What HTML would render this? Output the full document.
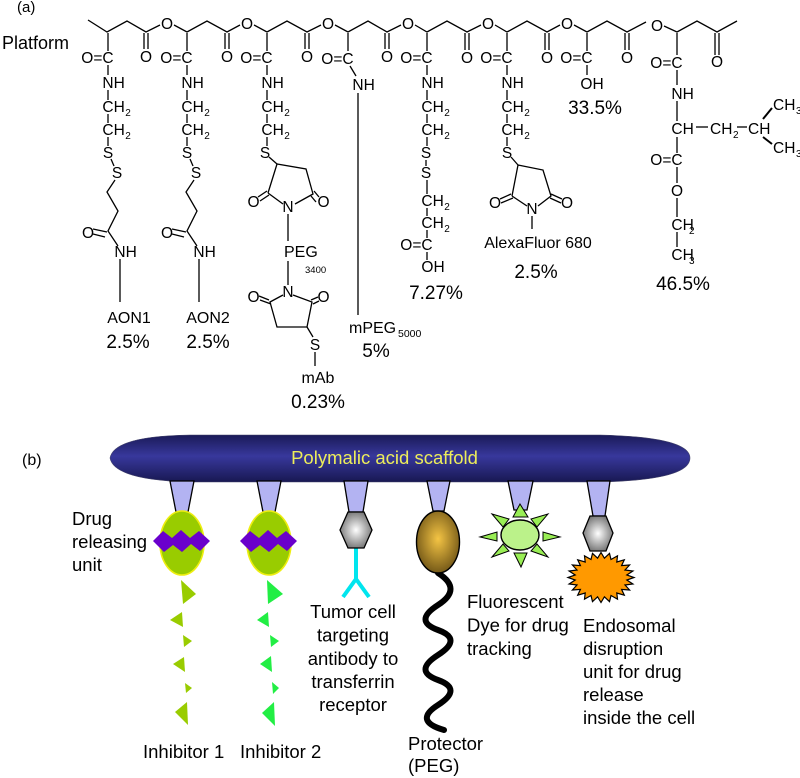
<!DOCTYPE html>
<html><head><meta charset="utf-8">
<style>
html,body{margin:0;padding:0;background:#fff;}
svg{display:block;}
text{font-family:"Liberation Sans",Arial,sans-serif;fill:#000;}
.a{font-size:15.5px;}
.s{font-size:10px;}
.n{font-size:16px;}
.p{font-size:19px;}
.L{font-size:18.5px;}
.b line,.b polyline{stroke:#000;stroke-width:1.3;fill:none;}
</style></head>
<body>
<svg width="800" height="778" viewBox="0 0 800 778" xmlns="http://www.w3.org/2000/svg">
<defs>
<linearGradient id="bar" x1="0" y1="0" x2="0" y2="1">
<stop offset="0" stop-color="#1a1a58"/><stop offset="0.45" stop-color="#38389c"/><stop offset="1" stop-color="#181852"/>
</linearGradient>
<radialGradient id="hex" cx=".5" cy=".5" r=".55"><stop offset="0" stop-color="#ffffff"/><stop offset="1" stop-color="#707070"/></radialGradient>
<radialGradient id="peg" cx=".5" cy=".45" r=".6"><stop offset="0" stop-color="#f4c444"/><stop offset="1" stop-color="#6a5014"/></radialGradient>
</defs>

<!-- ===== (a) ===== -->
<text x="17" y="12" style="font-size:15px">(a)</text>
<text x="2" y="49" style="font-size:18px">Platform</text>

<g class="b">
<!-- backbone -->
<polyline points="88,20 107,32 127,21 146,32 160,25"/>
<polyline points="174,25 187,32 207,21 227,32 240,25"/>
<polyline points="254,25 267,32 287,21 307,32 321,25"/>
<polyline points="335,25 348,32 368,21 387,32 401,25"/>
<polyline points="415,25 427,32 447,21 467,32 481,25"/>
<polyline points="495,25 507,32 527,21 547,32 560,25"/>
<polyline points="574,25 587,32 607,21 627,32 646,22"/>
<polyline points="664,26 677,32 697,21 717,32 737,21"/>
<!-- carbonyl double bonds -->
<line x1="144" y1="33" x2="144" y2="49"/><line x1="148" y1="33" x2="148" y2="49"/>
<line x1="225" y1="33" x2="225" y2="49"/><line x1="229" y1="33" x2="229" y2="49"/>
<line x1="305" y1="33" x2="305" y2="49"/><line x1="309" y1="33" x2="309" y2="49"/>
<line x1="385" y1="33" x2="385" y2="49"/><line x1="389" y1="33" x2="389" y2="49"/>
<line x1="465" y1="33" x2="465" y2="50"/><line x1="469" y1="33" x2="469" y2="50"/>
<line x1="545" y1="33" x2="545" y2="50"/><line x1="549" y1="33" x2="549" y2="50"/>
<line x1="625" y1="33" x2="625" y2="50"/><line x1="629" y1="33" x2="629" y2="50"/>
<line x1="715" y1="33" x2="715" y2="55"/><line x1="719" y1="33" x2="719" y2="55"/>
</g>
<g class="a" text-anchor="middle">
<text x="167" y="29">O</text><text x="247" y="29">O</text><text x="328" y="29">O</text><text x="408" y="29">O</text>
<text x="488" y="29">O</text><text x="567" y="29">O</text><text x="657" y="31">O</text>
<text x="146" y="62">O</text><text x="227" y="62">O</text><text x="307" y="62">O</text><text x="387" y="62">O</text>
<text x="467" y="63">O</text><text x="547" y="63">O</text><text x="627" y="63">O</text><text x="717" y="67">O</text>
</g>

<!-- common side chains: cx 108,187,267,427,507 -->
<g class="b">
<line x1="108" y1="33" x2="108" y2="51"/><line x1="108" y1="65" x2="108" y2="75"/><line x1="108" y1="90" x2="108" y2="100"/><line x1="108" y1="114" x2="108" y2="123"/><line x1="108" y1="137" x2="108" y2="146"/>
<line x1="187" y1="33" x2="187" y2="51"/><line x1="187" y1="65" x2="187" y2="75"/><line x1="187" y1="90" x2="187" y2="100"/><line x1="187" y1="114" x2="187" y2="123"/><line x1="187" y1="137" x2="187" y2="146"/>
<line x1="267" y1="33" x2="267" y2="51"/><line x1="267" y1="65" x2="267" y2="75"/><line x1="267" y1="90" x2="267" y2="100"/><line x1="267" y1="114" x2="267" y2="123"/><line x1="267" y1="137" x2="267" y2="146"/>
<line x1="427" y1="33" x2="427" y2="51"/><line x1="427" y1="65" x2="427" y2="75"/><line x1="427" y1="90" x2="427" y2="100"/><line x1="427" y1="114" x2="427" y2="123"/><line x1="427" y1="137" x2="427" y2="146"/>
<line x1="507" y1="33" x2="507" y2="51"/><line x1="507" y1="65" x2="507" y2="75"/><line x1="507" y1="90" x2="507" y2="100"/><line x1="507" y1="114" x2="507" y2="123"/><line x1="507" y1="137" x2="507" y2="146"/>
</g>
<g class="a">
<text x="113.6" y="63" text-anchor="end">O=C</text><text x="102.4" y="88">NH</text><text x="102.4" y="112">CH</text><text x="102.4" y="135">CH</text><text x="108" y="158" text-anchor="middle">S</text>
<text x="192.6" y="63" text-anchor="end">O=C</text><text x="181.4" y="88">NH</text><text x="181.4" y="112">CH</text><text x="181.4" y="135">CH</text><text x="187" y="158" text-anchor="middle">S</text>
<text x="272.6" y="63" text-anchor="end">O=C</text><text x="261.4" y="88">NH</text><text x="261.4" y="112">CH</text><text x="261.4" y="135">CH</text><text x="265" y="158" text-anchor="middle">S</text>
<text x="432.6" y="63" text-anchor="end">O=C</text><text x="421.4" y="88">NH</text><text x="421.4" y="112">CH</text><text x="421.4" y="135">CH</text><text x="426" y="158" text-anchor="middle">S</text>
<text x="512.6" y="63" text-anchor="end">O=C</text><text x="501.4" y="88">NH</text><text x="501.4" y="112">CH</text><text x="501.4" y="135">CH</text><text x="507" y="158" text-anchor="middle">S</text>
</g>
<g class="s">
<text x="125.3" y="116">2</text><text x="125.3" y="139">2</text>
<text x="204.3" y="116">2</text><text x="204.3" y="139">2</text>
<text x="284.3" y="116">2</text><text x="284.3" y="139">2</text>
<text x="444.3" y="116">2</text><text x="444.3" y="139">2</text>
<text x="524.3" y="116">2</text><text x="524.3" y="139">2</text>
</g>

<!-- chain 1 & 2: AON -->
<g class="b">
<line x1="111" y1="159" x2="114" y2="166"/>
<polyline points="115,180 107,192 118,211 108,231 118,246"/>
<line x1="93" y1="229" x2="107" y2="232"/><line x1="93" y1="234" x2="105" y2="237"/>
<line x1="120" y1="259" x2="120" y2="302"/>
<line x1="190" y1="159" x2="193" y2="166"/>
<polyline points="194,180 186,192 197,211 187,231 197,246"/>
<line x1="172" y1="229" x2="186" y2="232"/><line x1="172" y1="234" x2="184" y2="237"/>
<line x1="199" y1="259" x2="199" y2="302"/>
</g>
<g class="a">
<text x="117" y="178" text-anchor="middle">S</text>
<text x="88" y="238" text-anchor="middle">O</text>
<text x="114.4" y="257">NH</text>
<text x="196" y="178" text-anchor="middle">S</text>
<text x="167" y="238" text-anchor="middle">O</text>
<text x="193.4" y="257">NH</text>
</g>
<text class="n" x="129" y="323" text-anchor="middle">AON1</text>
<text class="p" x="128" y="348" text-anchor="middle">2.5%</text>
<text class="n" x="208" y="323" text-anchor="middle">AON2</text>
<text class="p" x="208" y="348" text-anchor="middle">2.5%</text>

<!-- chain 3: maleimide-PEG-maleimide-mAb -->
<g class="b">
<line x1="269" y1="157" x2="277" y2="164"/>
<polyline points="268,193 277,164 306,169 313,194 295,204"/>
<line x1="268" y1="193" x2="283" y2="204"/>
<line x1="267" y1="191" x2="258" y2="197"/><line x1="269" y1="195" x2="260" y2="201"/>
<line x1="314" y1="191" x2="319" y2="197"/><line x1="311" y1="196" x2="316" y2="202"/>
<line x1="288" y1="214" x2="288" y2="241"/>
<line x1="288" y1="261" x2="288" y2="285"/>
<polyline points="283,295 270,302 277,327 307,327 312,302 293,295"/>
<line x1="269" y1="300" x2="259" y2="296"/><line x1="271" y1="304" x2="260" y2="300"/>
<line x1="311" y1="300" x2="318" y2="297"/><line x1="313" y1="304" x2="319" y2="301"/>
<line x1="307" y1="327" x2="313" y2="337"/>
<line x1="315" y1="352" x2="315" y2="366"/>
</g>
<g class="a" text-anchor="middle">
<text x="288" y="212">N</text>
<text x="253.5" y="207">O</text>
<text x="323.5" y="207">O</text>
<text x="288" y="297">N</text>
<text x="253.5" y="302">O</text>
<text x="323.5" y="302">O</text>
<text x="315" y="350">S</text>
</g>
<text class="n" x="284" y="257">PEG</text>
<text x="305" y="273" style="font-size:9.5px">3400</text>
<text class="n" x="318" y="383" text-anchor="middle">mAb</text>
<text class="p" x="318" y="408" text-anchor="middle">0.23%</text>

<!-- chain 4: mPEG -->
<g class="b">
<line x1="348" y1="33" x2="348" y2="51"/>
<line x1="350" y1="66" x2="356" y2="76"/>
<line x1="358" y1="93" x2="358" y2="315"/>
</g>
<text class="a" x="353.6" y="64" text-anchor="end">O=C</text>
<text class="a" x="352.4" y="90">NH</text>
<text class="n" x="349" y="333">mPEG</text>
<text x="398" y="337" style="font-size:10.5px">5000</text>
<text class="p" x="376" y="357" text-anchor="middle">5%</text>

<!-- chain 5: 7.27% -->
<g class="b">
<line x1="426" y1="160" x2="426" y2="166"/>
<line x1="427" y1="180" x2="427" y2="194"/>
<line x1="427" y1="208" x2="427" y2="216"/>
<line x1="427" y1="230" x2="427" y2="238"/>
<line x1="427" y1="252" x2="427" y2="260"/>
</g>
<g class="a">
<text x="426" y="178" text-anchor="middle">S</text>
<text x="421.4" y="206">CH</text>
<text x="421.4" y="228">CH</text>
<text x="432.6" y="250" text-anchor="end">O=C</text>
<text x="421.4" y="272">OH</text>
</g>
<text class="s" x="444.3" y="210">2</text>
<text class="s" x="444.3" y="232">2</text>
<text class="p" x="436" y="299" text-anchor="middle">7.27%</text>

<!-- chain 6: AlexaFluor -->
<g class="b">
<line x1="511" y1="157" x2="518" y2="165"/>
<polyline points="512,196 518,165 543,170 551,196 538,206"/>
<line x1="512" y1="196" x2="527" y2="206"/>
<line x1="511" y1="194" x2="500" y2="199"/><line x1="513" y1="198" x2="501" y2="203"/>
<line x1="551" y1="194" x2="562" y2="199"/><line x1="550" y1="198" x2="561" y2="203"/>
<line x1="532" y1="216" x2="532" y2="229"/>
</g>
<g class="a" text-anchor="middle">
<text x="532" y="214">N</text>
<text x="495" y="208">O</text>
<text x="567" y="208">O</text>
</g>
<text class="n" x="538" y="248" text-anchor="middle">AlexaFluor 680</text>
<text class="p" x="536" y="278" text-anchor="middle">2.5%</text>

<!-- chain 7: 33.5% -->
<g class="b">
<line x1="587" y1="33" x2="587" y2="51"/>
<line x1="587" y1="65" x2="587" y2="75"/>
</g>
<text class="a" x="592.6" y="63" text-anchor="end">O=C</text>
<text class="a" x="580.4" y="89">OH</text>
<text class="p" x="595" y="114" text-anchor="middle">33.5%</text>

<!-- chain 8: leucine ethyl ester -->
<g class="b">
<line x1="677" y1="33" x2="677" y2="55"/>
<line x1="677" y1="70" x2="677" y2="85"/>
<line x1="677" y1="101" x2="677" y2="121"/>
<line x1="696" y1="127" x2="708" y2="127"/>
<line x1="737" y1="127" x2="747" y2="127"/>
<line x1="763" y1="119" x2="772" y2="108" style="stroke-width:2"/>
<line x1="763" y1="137" x2="772" y2="144" style="stroke-width:2"/>
<line x1="677" y1="137" x2="677" y2="153"/>
<line x1="677" y1="167" x2="677" y2="183"/>
<line x1="677" y1="198" x2="677" y2="217"/>
<line x1="677" y1="232" x2="677" y2="247"/>
</g>
<g class="a">
<text x="682.6" y="68" text-anchor="end">O=C</text>
<text x="671.4" y="99">NH</text>
<text x="671.4" y="134">CH</text>
<text x="710" y="134">CH</text>
<text x="748" y="134">CH</text>
<text x="773" y="110">CH</text>
<text x="773" y="153">CH</text>
<text x="682.6" y="165" text-anchor="end">O=C</text>
<text x="677" y="196" text-anchor="middle">O</text>
<text x="671.4" y="230">CH</text>
<text x="671.4" y="260">CH</text>
</g>
<g class="s">
<text x="733" y="138">2</text>
<text x="796" y="114">3</text>
<text x="796" y="157">3</text>
<text x="689" y="234">2</text>
<text x="689" y="264">3</text>
</g>
<text class="p" x="683" y="290" text-anchor="middle">46.5%</text>

<!-- ===== (b) ===== -->
<text x="22" y="465" style="font-size:16px">(b)</text>

<path d="M110,458 Q114,436 190,435 L600,435 Q690,437 690,458 Q690,480 600,482 L190,482 Q114,480 110,458 Z" fill="url(#bar)" stroke="#44446a" stroke-width="0.6"/>
<text x="384.5" y="464" text-anchor="middle" style="font-size:18.5px;fill:#eded5a">Polymalic acid scaffold</text>

<!-- stalks -->
<g fill="#b3b3f2" stroke="#000" stroke-width="1.3">
<polygon points="170,481 194,481 188,512 176,512"/>
<polygon points="257,481 281,481 275,512 263,512"/>
<polygon points="344,481 368,481 363,512 349,512"/>
<polygon points="427,481 450,481 444,511 433,511"/>
<polygon points="508,481 533,481 527,510 514,510"/>
<polygon points="587,481 610,481 605,516 593,516"/>
</g>

<!-- eggs -->
<ellipse cx="182" cy="543" rx="22" ry="32" fill="#99cc00" stroke="#eeee10" stroke-width="1.6"/>
<ellipse cx="269" cy="543" rx="22" ry="32" fill="#99cc00" stroke="#eeee10" stroke-width="1.6"/>
<polygon fill="#6a00cc" points="153,541 163,531 172,538 181,530 190,538 199,531 210,541 200,551 191,544 182,552 173,545 164,552"/>
<polygon fill="#6a00cc" points="240,541 250,531 259,538 268,530 277,538 286,531 297,541 287,551 278,544 269,552 260,545 251,552"/>

<!-- inhibitors -->
<g fill="#99cc00">
<polygon points="181,580 196,594 183,604"/>
<polygon points="182,612 170,620 183,627"/>
<polygon points="183,635 192,641 184,647"/>
<polygon points="184,657 173,664 185,672"/>
<polygon points="185,683 192,688 186,693"/>
<polygon points="187,702 175,712 188,725"/>
</g>
<g fill="#22ee44">
<polygon points="267,580 283,594 268,604"/>
<polygon points="268,612 257,620 269,627"/>
<polygon points="270,635 279,641 271,647"/>
<polygon points="271,656 260,664 272,672"/>
<polygon points="272,682 279,688 273,694"/>
<polygon points="274,702 262,713 275,726"/>
</g>

<!-- antibody -->
<g stroke="#00e5ee" stroke-width="4" fill="none" stroke-linecap="butt">
<line x1="356" y1="547" x2="356" y2="580"/>
<line x1="356" y1="579" x2="343" y2="597"/>
<line x1="356" y1="579" x2="369" y2="597"/>
</g>
<polygon points="340,530 348,512 364,512 372,530 364,548 348,548" fill="url(#hex)" stroke="#000" stroke-width="1.3"/>

<!-- PEG protector -->
<path d="M438,573 Q463,589 438,605 T438,630 T438,655 T438,680 T438,705 T444,730" fill="none" stroke="#000" stroke-width="6" stroke-linecap="round"/>
<ellipse cx="438" cy="542" rx="21.5" ry="31" fill="url(#peg)" stroke="#000" stroke-width="1.4"/>

<!-- fluorescent sun -->
<g fill="#99ee55" stroke="#000" stroke-width="1">
<polygon points="513,517 528,517 520,504"/>
<polygon points="514,553 527,553 521,567"/>
<polygon points="497,532 497,541 480,537"/>
<polygon points="543,532 543,541 560,537"/>
<polygon points="492,514 503,527 509,519"/>
<polygon points="548,514 531,519 537,527"/>
<polygon points="492,557 503,544 509,551"/>
<polygon points="548,557 531,551 537,544"/>
</g>
<ellipse cx="520" cy="535" rx="19" ry="15" fill="#bbf28a" stroke="#000" stroke-width="1.4"/>

<!-- endosomal disruption -->
<polygon fill="#ff9900" stroke="#000" stroke-width="1.2" points="634,577.5 626.8,580 632.9,584 625,585 629.6,590 621.6,589.4 624.3,595.2 616.8,593 617.5,599.2 611,595.5 609.5,601.6 604.4,596.8 601,602.5 597.6,596.8 592.5,601.6 591,595.5 584.5,599.2 585.2,593 577.7,595.2 580.4,589.4 572.4,590 577,585 569.1,584 575.2,580 568,577.5 575.2,575 569.1,571 577,570 572.4,565 580.4,565.6 577.7,559.8 585.2,562 584.5,555.8 591,559.5 592.5,553.4 597.6,558.2 601,552.5 604.4,558.2 609.5,553.4 611,559.5 617.5,555.8 616.8,562 624.3,559.8 621.6,565.6 629.6,565 625,570 632.9,571 626.8,575"/>
<polygon points="583,533 590,516 606,516 613,533 606,551 590,551" fill="url(#hex)" stroke="#000" stroke-width="1.3"/>

<!-- labels -->
<g class="L">
<text x="72" y="525">Drug</text>
<text x="72" y="548">releasing</text>
<text x="72" y="571">unit</text>

<text x="143" y="758">Inhibitor 1</text>
<text x="240" y="758">Inhibitor 2</text>

<text x="353" y="618" text-anchor="middle">Tumor cell</text>
<text x="353" y="641.5" text-anchor="middle">targeting</text>
<text x="353" y="665" text-anchor="middle">antibody to</text>
<text x="353" y="688" text-anchor="middle">transferrin</text>
<text x="353" y="711" text-anchor="middle">receptor</text>

<text x="408" y="750">Protector</text>
<text x="408" y="772">(PEG)</text>

<text x="467" y="608">Fluorescent</text>
<text x="467" y="631.5">Dye for drug</text>
<text x="467" y="655">tracking</text>

<text x="583" y="632">Endosomal</text>
<text x="583" y="655">disruption</text>
<text x="583" y="678">unit for drug</text>
<text x="583" y="701">release</text>
<text x="583" y="724">inside the cell</text>
</g>
</svg>
</body></html>
